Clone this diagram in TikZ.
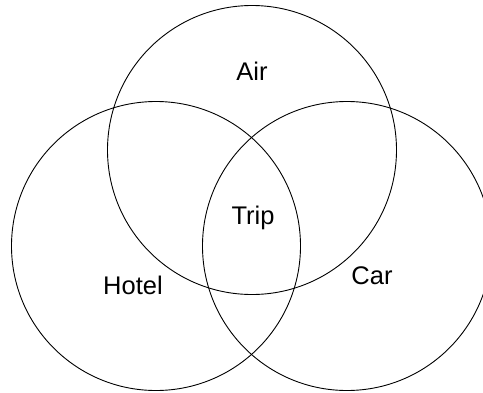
\documentclass[tikz,border=0pt]{standalone}
\usepackage{fontspec}
\setmainfont{Liberation Sans}
\begin{document}
\begin{tikzpicture}[x=1pt,y=-1pt,
  setcircle/.style={draw=black,line width=0.9pt,circle,minimum size=289pt,inner sep=0pt},
  setlabel/.style={font=\fontsize{25.5}{30}\selectfont,inner sep=0pt,anchor=base}]
\useasboundingbox (0,0) rectangle (483,392);
\clip (0,0) rectangle (483,392);
\node[setcircle] (air) at (252,150) {};
\node[setcircle] (hotel) at (156,246) {};
\node[setcircle] (car) at (347,246) {};
\node[setlabel] (airlabel) at (252,80) {Air};
\node[setlabel] (triplabel) at (253,224) {Trip};
\node[setlabel] (hotellabel) at (133,294) {Hotel};
\node[setlabel] (carlabel) at (372,284) {Car};
\end{tikzpicture}
\end{document}
